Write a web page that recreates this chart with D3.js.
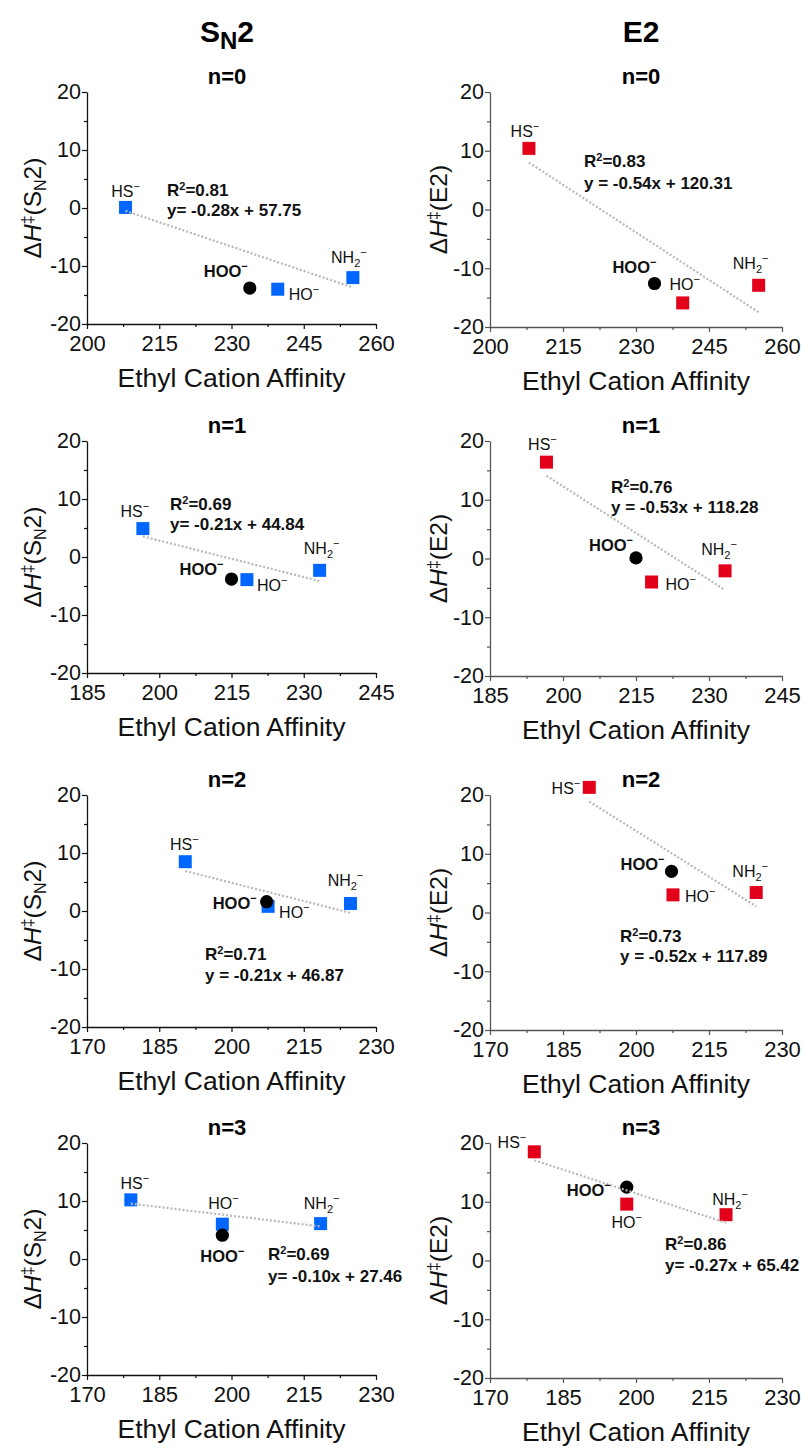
<!DOCTYPE html>
<html>
<head>
<meta charset="utf-8">
<script src="https://cdn.jsdelivr.net/npm/d3@7"></script>
<style>
  body { margin: 0; background: #fff; }
  svg { display: block; }
</style>
</head>
<body>
<script>
// ---- data ----
const rowTitles = ["n=0", "n=1", "n=2", "n=3"];
const xDomains = [[200, 260], [185, 245], [170, 230], [170, 230]];
const yDomain = [-20, 20];
const yTicks = [-20, -10, 0, 10, 20];
const xTitle = "Ethyl Cation Affinity";

// order: HS-, HO-, NH2-, HOO-
const nucleophiles = ["HS", "HO", "NH2", "HOO"];

// ethyl cation affinity (x), one row per n
const eca = [
  [208.0, 239.6, 255.2, 233.8],
  [196.6, 218.2, 233.3, 215.0],
  [190.4, 207.6, 224.7, 207.3],
  [179.1, 198.1, 218.5, 198.1]
];

const sn2Barrier = [
  [0.1, -14.0, -12.0, -13.8],
  [4.9, -3.9, -2.3, -3.8],
  [8.5, 0.8, 1.3, 1.6],
  [10.2, 6.0, 6.1, 4.1]
];

const e2Barrier = [
  [10.4, -15.9, -12.9, -12.6],
  [16.4, -4.0, -2.1, 0.1],
  [21.3, 3.0, 3.4, 7.0],
  [18.5, 9.6, 7.8, 12.5]
];

const sn2Slope = [-0.28, -0.21, -0.21, -0.10];
const sn2Intercept = [57.75, 44.84, 46.87, 27.46];
const sn2R2 = ["0.81", "0.69", "0.71", "0.69"];
const sn2EqText = ["y= -0.28x + 57.75", "y= -0.21x + 44.84", "y = -0.21x + 46.87", "y= -0.10x + 27.46"];

const e2Slope = [-0.54, -0.53, -0.52, -0.27];
const e2Intercept = [120.31, 118.28, 117.89, 65.42];
const e2R2 = ["0.83", "0.76", "0.73", "0.86"];
const e2EqText = ["y = -0.54x + 120.31", "y = -0.53x + 118.28", "y = -0.52x + 117.89", "y= -0.27x + 65.42"];

// ---- layout ----
const FONT = "'Liberation Sans', Arial, Helvetica, sans-serif";
const W = 805, H = 1450;
const rowTops = [92, 441, 795, 1143];

// label offsets from each point [dx, dy, anchor], same order as nucleophiles
const sn2LabelPos = [
  [[0, -10, "middle"], [11, 11, "start"], [-4, -15, "middle"], [-2, -11, "end"]],
  [[-8, -12, "middle"], [10, 11, "start"], [2, -16, "middle"], [-8, -4, "end"]],
  [[-1, -12, "middle"], [11, 12, "start"], [-5, -17, "middle"], [-10, 7, "end"]],
  [[4, -11, "middle"], [1, -15, "middle"], [1, -15, "middle"], [0, 27, "middle"]]
];
const e2LabelPos = [
  [[-4, -11, "middle"], [2, -13, "middle"], [-8, -16, "middle"], [2, -11, "end"]],
  [[-4, -12, "middle"], [14, 8, "start"], [-6, -16, "middle"], [-3, -7, "end"]],
  [[-9, 7, "end"], [12, 7, "start"], [-6, -16, "middle"], [-7, -1, "end"]],
  [[-8, -4, "end"], [0, 24, "middle"], [4, -10, "middle"], [-16, 9, "end"]]
];
// R2 / equation block position inside the plot [x, y of first baseline, line gap]
const sn2FitPos = [[80, 104, 20], [83, 69, 20], [118, 165, 21], [181, 117, 22]];
const e2FitPos = [[94, 75, 22], [121, 52, 20], [130, 147, 20], [175, 107, 21]];

const columns = [
  { key: "SN2", x0: 87, w: 289, h: 232, titleX: 227, yLabelX: 41, color: "#0066ff", axisColor: "#111",
    barrier: sn2Barrier, slope: sn2Slope, intercept: sn2Intercept, r2: sn2R2, eq: sn2EqText,
    labelPos: sn2LabelPos, fitPos: sn2FitPos },
  { key: "E2", x0: 490, w: 292, h: 235, titleX: 641, yLabelX: 447, color: "#e2001a", axisColor: "#555",
    barrier: e2Barrier, slope: e2Slope, intercept: e2Intercept, r2: e2R2, eq: e2EqText,
    labelPos: e2LabelPos, fitPos: e2FitPos }
];

const svg = d3.select("body").append("svg")
  .attr("width", W)
  .attr("height", H)
  .attr("font-family", FONT);

svg.append("rect").attr("width", W).attr("height", H).attr("fill", "#fff");

// column titles
columns.forEach(col => {
  const t = svg.append("text")
    .attr("x", col.titleX)
    .attr("y", 42)
    .attr("text-anchor", "middle")
    .attr("font-size", 30)
    .attr("font-weight", "bold");
  if (col.key === "SN2") {
    t.append("tspan").text("S");
    t.append("tspan").attr("font-size", 24).attr("dy", 7).text("N");
    t.append("tspan").attr("dy", -7).text("2");
  } else {
    t.text("E2");
  }
});

function writeNucleophile(sel, name) {
  if (name === "NH2") {
    sel.append("tspan").text("NH");
    sel.append("tspan").attr("font-size", 11).attr("dy", 4).text("2");
    sel.append("tspan").attr("font-size", 11).attr("dy", -11).text("\u2212");
  } else {
    sel.append("tspan").text(name);
    sel.append("tspan").attr("font-size", 11).attr("dy", -7).text("\u2212");
  }
}

function styleAxis(sel, col, size) {
  sel.attr("font-family", FONT).attr("font-size", size);
  sel.selectAll("path.domain").attr("stroke", col.axisColor).attr("stroke-width", 1.3);
  sel.selectAll(".tick line").attr("stroke", col.axisColor).attr("stroke-width", 1.2);
  sel.selectAll(".tick text").attr("fill", "#111");
}

columns.forEach(col => {
  rowTitles.forEach((rowTitle, r) => {
    const top = rowTops[r];
    const g = svg.append("g").attr("transform", `translate(${col.x0},${top})`);
    const x = d3.scaleLinear().domain(xDomains[r]).range([0, col.w]);
    const y = d3.scaleLinear().domain(yDomain).range([col.h, 0]);

    // row title
    g.append("text")
      .attr("x", col.titleX - col.x0)
      .attr("y", -8)
      .attr("text-anchor", "middle")
      .attr("font-size", 22)
      .attr("font-weight", "bold")
      .text(rowTitle);

    // axes: minor ticks first, then majors with labels
    const xMajor = d3.range(xDomains[r][0], xDomains[r][1] + 0.1, 15);
    const xMinor = d3.range(xDomains[r][0] + 7.5, xDomains[r][1], 15);
    const yMinor = d3.range(-15, 20, 10);

    g.append("g")
      .attr("transform", `translate(0,${col.h})`)
      .call(d3.axisBottom(x).tickValues(xMinor).tickSize(3).tickSizeOuter(0).tickFormat(""))
      .call(s => s.select(".domain").remove())
      .call(s => styleAxis(s, col, 22));
    g.append("g")
      .attr("transform", `translate(0,${col.h})`)
      .call(d3.axisBottom(x).tickValues(xMajor).tickSize(5).tickSizeOuter(0).tickPadding(6).tickFormat(d => String(d)))
      .call(s => styleAxis(s, col, 22));

    g.append("g")
      .call(d3.axisLeft(y).tickValues(yMinor).tickSize(3).tickSizeOuter(0).tickFormat(""))
      .call(s => s.select(".domain").remove())
      .call(s => styleAxis(s, col, 21.5));
    g.append("g")
      .call(d3.axisLeft(y).tickValues(yTicks).tickSize(5).tickSizeOuter(0).tickPadding(1).tickFormat(d => String(d)))
      .call(s => styleAxis(s, col, 21.5));

    // x title
    g.append("text")
      .attr("x", col.w / 2)
      .attr("y", col.h + 63)
      .attr("text-anchor", "middle")
      .attr("font-size", 26.5)
      .attr("fill", "#111")
      .text(xTitle);

    // y title
    const yl = svg.append("text")
      .attr("transform", `translate(${col.yLabelX},${top + col.h / 2}) rotate(-90)`)
      .attr("text-anchor", "middle")
      .attr("font-size", 24.5)
      .attr("fill", "#111");
    yl.append("tspan").text("\u0394");
    yl.append("tspan").attr("font-style", "italic").text("H");
    yl.append("tspan").attr("font-size", 16).attr("dy", -8).text("\u2021");
    if (col.key === "SN2") {
      yl.append("tspan").attr("dy", 8).text("(S");
      yl.append("tspan").attr("font-size", 16).attr("dy", 5).text("N");
      yl.append("tspan").attr("dy", -5).text("2)");
    } else {
      yl.append("tspan").attr("dy", 8).text("(E2)");
    }

    const pts = nucleophiles.map((name, i) => ({
      name: name,
      x: eca[r][i],
      y: col.barrier[r][i],
      pos: col.labelPos[r][i]
    }));
    const squares = pts.filter(p => p.name !== "HOO");
    const hoo = pts.filter(p => p.name === "HOO");

    g.selectAll("rect.sq")
      .data(squares)
      .join("rect")
      .attr("class", "sq")
      .attr("x", d => x(d.x) - 6.5)
      .attr("y", d => y(d.y) - 6.5)
      .attr("width", 13)
      .attr("height", 13)
      .attr("fill", col.color);

    g.selectAll("circle.hoo")
      .data(hoo)
      .join("circle")
      .attr("class", "hoo")
      .attr("cx", d => x(d.x))
      .attr("cy", d => y(d.y))
      .attr("r", 6.6)
      .attr("fill", "#000");

    // linear fit of the three squares, drawn over the markers
    const fitX = d3.extent(squares, d => d.x);
    const fitLine = fitX.map(v => [v, col.slope[r] * v + col.intercept[r]]);
    g.append("path")
      .datum(fitLine)
      .attr("d", d3.line().x(d => x(d[0])).y(d => y(d[1])))
      .attr("fill", "none")
      .attr("stroke", "#b8b8b8")
      .attr("stroke-width", 2.2)
      .attr("stroke-dasharray", "2,2");

    // point labels
    pts.forEach(p => {
      const t = g.append("text")
        .attr("x", x(p.x) + p.pos[0])
        .attr("y", y(p.y) + p.pos[1])
        .attr("text-anchor", p.pos[2])
        .attr("font-size", p.name === "HOO" ? 16.5 : 16)
        .attr("font-weight", p.name === "HOO" ? "bold" : "normal")
        .attr("fill", "#111");
      writeNucleophile(t, p.name);
    });

    // fit annotation
    const fp = col.fitPos[r];
    const r2 = g.append("text")
      .attr("x", fp[0])
      .attr("y", fp[1])
      .attr("font-size", 17)
      .attr("font-weight", "bold")
      .attr("fill", "#111");
    r2.append("tspan").text("R");
    r2.append("tspan").attr("font-size", 11).attr("dy", -6).text("2");
    r2.append("tspan").attr("dy", 6).text("=" + col.r2[r]);

    g.append("text")
      .attr("x", fp[0])
      .attr("y", fp[1] + fp[2])
      .attr("font-size", 17)
      .attr("font-weight", "bold")
      .attr("fill", "#111")
      .text(col.eq[r]);
  });
});
</script>
</body>
</html>
